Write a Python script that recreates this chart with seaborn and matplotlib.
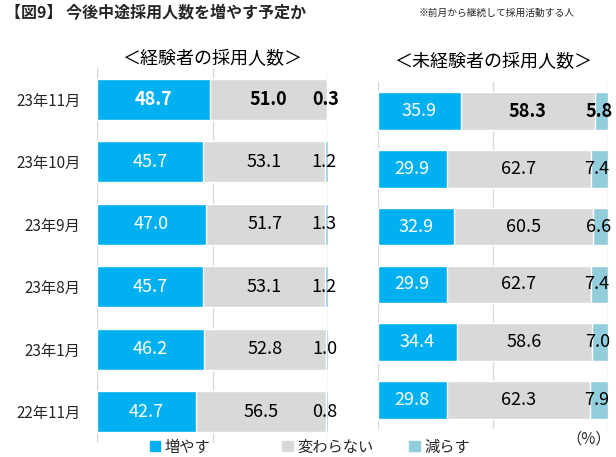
import numpy as np
import pandas as pd
import matplotlib
matplotlib.use("Agg")
import matplotlib.pyplot as plt
import matplotlib.patches as mpatches
import seaborn as sns

# data
months = ['23年11月', '23年10月', '23年9月', '23年8月', '23年1月', '22年11月']
exp_up = [48.7, 45.7, 47.0, 45.7, 46.2, 42.7]
exp_same = [51.0, 53.1, 51.7, 53.1, 52.8, 56.5]
exp_down = [0.3, 1.2, 1.3, 1.2, 1.0, 0.8]
new_up = [35.9, 29.9, 32.9, 29.9, 34.4, 29.8]
new_same = [58.3, 62.7, 60.5, 62.7, 58.6, 62.3]
new_down = [5.8, 7.4, 6.6, 7.4, 7.0, 7.9]
series = ['増やす', '変わらない', '減らす']
colors = ['#00B0F0', '#D9D9D9', '#92CDDC']

sns.set_theme(style='white')
plt.rcParams['font.family'] = ['Noto Sans CJK JP', 'DejaVu Sans']

fig = plt.figure(figsize=(6.16, 4.57), dpi=100)
ax1 = fig.add_axes([0.1575, 0.0306, 0.375, 0.8206])
ax2 = fig.add_axes([0.6136, 0.0613, 0.3734, 0.759])


def draw_panel(ax, up, same, down, title, show_y, title_pad):
    df = pd.DataFrame({'month': months, 'up': up, 'same': same, 'down': down})
    df['c1'] = df['up']
    df['c2'] = df['up'] + df['same']
    df['c3'] = df['c2'] + df['down']
    # stacked look: draw cumulative totals, longest first
    for col, c in zip(['c3', 'c2', 'c1'], colors[::-1]):
        sns.barplot(data=df, x=col, y='month', orient='h', color=c,
                    width=0.65, saturation=1, ax=ax, zorder=2)
    for i, row in df.iterrows():
        first = i == 0
        ax.text(row['up'] / 2, i, f"{row['up']:.1f}", ha='center', va='center',
                color='white', fontsize=13,
                fontweight='bold' if (first and show_y) else 'normal', zorder=3)
        ax.text(row['up'] + row['same'] / 2, i, f"{row['same']:.1f}", ha='center',
                va='center', color='black', fontsize=13,
                fontweight='bold' if first else 'normal', zorder=3)
        ax.text(row['c2'] + row['down'] / 2 - 1, i, f"{row['down']:.1f}",
                ha='center', va='center', color='black', fontsize=13,
                fontweight='bold' if first else 'normal', zorder=3)
    ax.set_xlim(0, 100)
    ax.set_xticks([0, 50, 100])
    ax.xaxis.grid(True, color='#D9D9D9', linewidth=1)
    ax.set_axisbelow(True)
    ax.tick_params(axis='x', labelbottom=False, length=0)
    ax.tick_params(axis='y', length=0, labelsize=11, pad=12)
    ax.set_xlabel('')
    ax.set_ylabel('')
    if not show_y:
        ax.set_yticklabels([])
    for s in ax.spines.values():
        s.set_visible(False)
    ax.set_title(title, fontsize=13, pad=title_pad, color='black')


draw_panel(ax1, exp_up, exp_same, exp_down, '＜経験者の採用人数＞', True, -1)
draw_panel(ax2, new_up, new_same, new_down, '＜未経験者の採用人数＞', False, 11)

fig.text(0.008, 0.972, '【図9】 今後中途採用人数を増やす予定か', fontsize=11.5,
         fontweight='bold', va='center', ha='left')
fig.text(0.68, 0.972, '※前月から継続して採用活動する人', fontsize=7,
         va='center', ha='left')
fig.text(0.955, 0.04, '（%）', fontsize=11, va='center', ha='center')

# legend entries spaced evenly like the original
for c, s, x in zip(colors, series, [0.243, 0.458, 0.664]):
    fig.legend(handles=[mpatches.Patch(color=c, label=s)], loc='center left',
               bbox_to_anchor=(x, 0.022), frameon=False, fontsize=11,
               handlelength=0.7, handleheight=0.7, handletextpad=0.3,
               borderpad=0, borderaxespad=0)

fig.savefig('out.png', dpi=100)
